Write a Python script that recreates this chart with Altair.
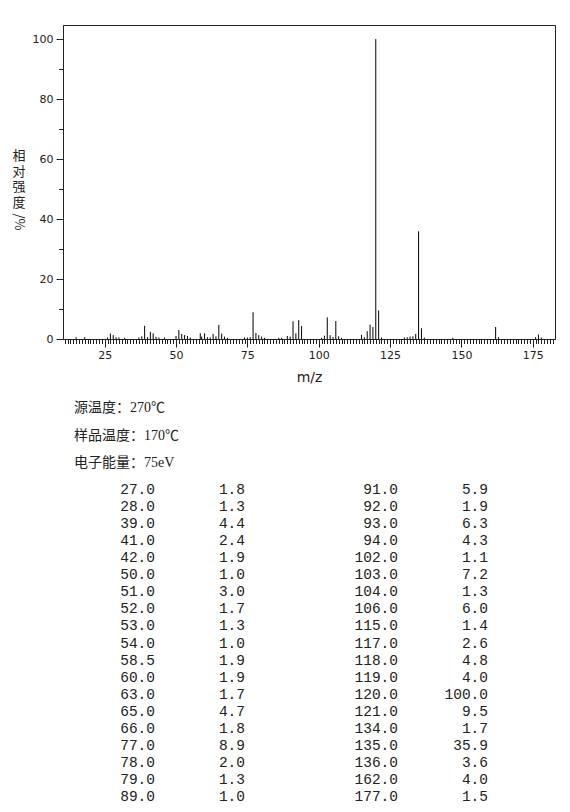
import altair as alt
import pandas as pd

# ---- spectrum peaks (m/z, relative intensity %) ----
mz = [15, 18, 26, 27, 28, 29, 30, 32, 37, 38, 39, 40, 41, 42, 43, 44, 46,
      50, 51, 52, 53, 54, 55, 58.5, 59, 60, 61, 62, 63, 64, 65, 66, 67, 68,
      74, 75, 76, 77, 78, 79, 80, 81, 86, 87, 89, 90, 91, 92, 93, 94,
      101, 102, 103, 104, 105, 106, 107, 108, 115, 116, 117, 118, 119, 120,
      121, 122, 130, 131, 132, 133, 134, 135, 136, 137, 147, 162, 163, 176,
      177, 178]
intensity = [0.6, 0.6, 0.5, 1.8, 1.3, 0.6, 0.5, 0.4, 0.5, 0.9, 4.4, 0.6, 2.4,
             1.9, 0.7, 0.5, 0.5, 1.0, 3.0, 1.7, 1.3, 1.0, 0.5, 1.9, 0.8, 1.9,
             0.6, 0.5, 1.7, 0.9, 4.7, 1.8, 0.8, 0.4, 0.5, 0.5, 0.6, 8.9, 2.0,
             1.3, 0.8, 0.4, 0.4, 0.4, 1.0, 0.8, 5.9, 1.9, 6.3, 4.3, 0.4, 1.1,
             7.2, 1.3, 0.7, 6.0, 0.9, 0.4, 1.4, 0.6, 2.6, 4.8, 4.0, 100.0, 9.5,
             0.5, 0.5, 0.6, 0.8, 0.9, 1.7, 35.9, 3.6, 0.5, 0.4, 4.0, 0.6, 0.6,
             1.5, 0.5]

# ---- axis texts ----
x_title = "m/z"
y_title_cjk = "相对强度"
y_title_unit = "/%"
x_major = 25
y_major = 20

# ---- info lines ----
info_lines = ["源温度：270℃", "样品温度：170℃", "电子能量：75eV"]

# ---- peak table ----
tab_mz_left = ["27.0", "28.0", "39.0", "41.0", "42.0", "50.0", "51.0", "52.0",
               "53.0", "54.0", "58.5", "60.0", "63.0", "65.0", "66.0", "77.0",
               "78.0", "79.0", "89.0"]
tab_int_left = ["1.8", "1.3", "4.4", "2.4", "1.9", "1.0", "3.0", "1.7", "1.3",
                "1.0", "1.9", "1.9", "1.7", "4.7", "1.8", "8.9", "2.0", "1.3",
                "1.0"]
tab_mz_right = ["91.0", "92.0", "93.0", "94.0", "102.0", "103.0", "104.0",
                "106.0", "115.0", "117.0", "118.0", "119.0", "120.0", "121.0",
                "134.0", "135.0", "136.0", "162.0", "177.0"]
tab_int_right = ["5.9", "1.9", "6.3", "4.3", "1.1", "7.2", "1.3", "6.0", "1.4",
                 "2.6", "4.8", "4.0", "100.0", "9.5", "1.7", "35.9", "3.6",
                 "4.0", "1.5"]

X_DOMAIN = [10.4, 182.8]
Y_DOMAIN = [0, 104.7]
PW, PH = 492, 314

peaks = pd.DataFrame({"mz": mz, "int": intensity})
x_tick_vals = list(range(11, 183))
y_tick_vals = list(range(0, 101, 10))

bars = alt.Chart(peaks).mark_rule(color="black", strokeWidth=1).encode(
    x=alt.X("mz:Q",
            scale=alt.Scale(domain=X_DOMAIN, nice=False, zero=False),
            axis=alt.Axis(values=x_tick_vals,
                          labelExpr=f"datum.value % {x_major} === 0 ? datum.label : ''",
                          title=x_title, titleFont="DejaVu Sans", titleFontSize=14,
                          titleFontWeight="normal", titleColor="#222", titlePadding=10,
                          labelFont="DejaVu Sans", labelFontSize=11, labelColor="#222",
                          labelOverlap=False, labelFlush=False, labelPadding=2,
                          grid=False, domainColor="#222", tickColor="#222",
                          tickSize={"condition": {"test": f"datum.value % {x_major} === 0", "value": 8}, "value": 4.5})),
    y=alt.Y("int:Q",
            scale=alt.Scale(domain=Y_DOMAIN, nice=False),
            axis=alt.Axis(values=y_tick_vals,
                          labelExpr=f"datum.value % {y_major} === 0 ? datum.label : ''",
                          title="", labelFont="DejaVu Sans", labelFontSize=11,
                          labelColor="#222", labelOverlap=False, labelFlush=False,
                          labelPadding=3, grid=False, domainColor="#222",
                          tickColor="#222",
                          tickSize={"condition": {"test": f"datum.value % {y_major} === 0", "value": 7}, "value": 4.5})),
    y2=alt.datum(0),
)

yt1 = alt.Chart(pd.DataFrame({"t": ["\n".join(y_title_cjk)]})).mark_text(
    font="Noto Sans CJK SC", fontSize=13, lineBreak="\n", lineHeight=15.5,
    align="center", baseline="top", color="#222"
).encode(text="t:N", x=alt.value(-44), y=alt.value(125))

yt2 = alt.Chart(pd.DataFrame({"t": [y_title_unit]})).mark_text(
    font="Noto Sans CJK SC", fontSize=13, angle=90,
    align="center", baseline="middle", color="#222"
).encode(text="t:N", x=alt.value(-44), y=alt.value(197))

spectrum = alt.layer(bars, yt1, yt2).properties(
    width=PW, height=PH,
    view=alt.ViewBackground(stroke="#222", strokeWidth=1),
)

# ---- bottom: info + table ----
info_df = pd.DataFrame({"line": list(range(len(info_lines))), "text": info_lines})
info = alt.Chart(info_df).mark_text(
    align="left", baseline="middle", font="Liberation Serif, Noto Sans CJK SC",
    fontSize=14, color="#222"
).encode(
    x=alt.value(11),
    y=alt.Y("line:O", scale=alt.Scale(type="point", range=[10, 65], padding=0), axis=None),
    text="text:N",
)

tab_df = pd.DataFrame({
    "row": list(range(len(tab_mz_left))),
    "c1": tab_mz_left, "c2": tab_int_left, "c3": tab_mz_right, "c4": tab_int_right,
})
row_y = alt.Y("row:O", scale=alt.Scale(type="point", range=[92, 399], padding=0), axis=None)
col_x = {"c1": 92, "c2": 182, "c3": 335, "c4": 425}
tab_layers = []
for col, xpos in col_x.items():
    tab_layers.append(
        alt.Chart(tab_df).mark_text(
            align="right", baseline="middle", font="Liberation Mono",
            fontSize=14.5, color="#222"
        ).encode(x=alt.value(xpos), y=row_y, text=f"{col}:N")
    )

table = alt.layer(*tab_layers)

bottom = alt.layer(info, table).resolve_scale(y="independent").properties(
    width=PW, height=400,
    view=alt.ViewBackground(stroke="transparent"),
)

chart = alt.vconcat(spectrum, bottom, spacing=12).properties(
    padding={"left": 3, "top": 16, "right": 5, "bottom": 0}
).configure(font="DejaVu Sans")

chart.save("out.html", embed_options={"renderer": "svg", "actions": False})
